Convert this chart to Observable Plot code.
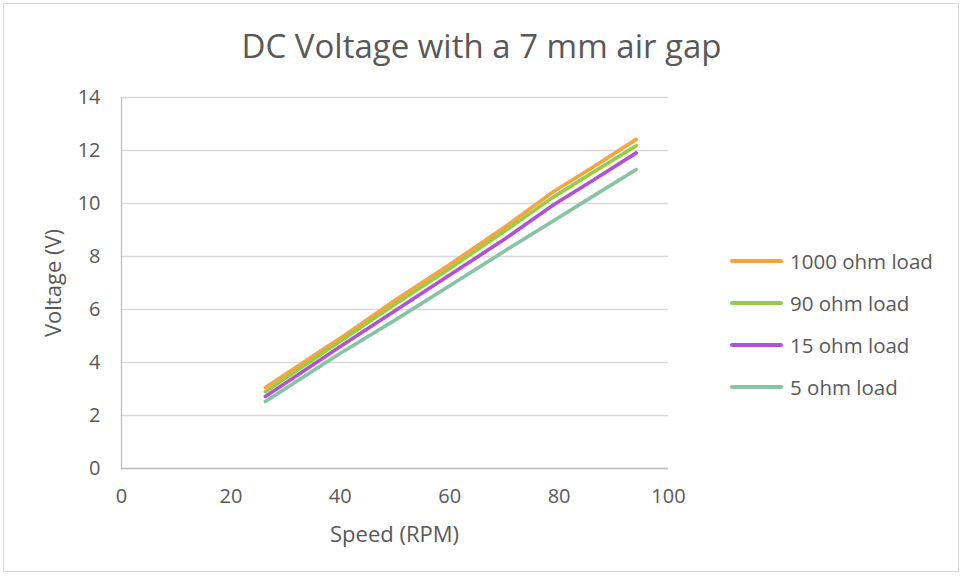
<!DOCTYPE html>
<html>
<head>
<meta charset="utf-8">
<script src="https://cdn.jsdelivr.net/npm/d3@7"></script>
<script src="https://cdn.jsdelivr.net/npm/@observablehq/plot@0.6"></script>
<style>
  html, body { margin: 0; padding: 0; background: #fff; }
  body { width: 963px; height: 577px; position: relative; overflow: hidden; font-family: "Open Sans", sans-serif; color: #595959; }
  #frame { position: absolute; left: 3px; top: 3px; width: 956px; height: 569px; border: 1px solid #d9d9d9; box-sizing: border-box; }
  #chart { position: absolute; left: 0; top: 0; }
  #title { position: absolute; left: 0; width: 963px; top: 23px; text-align: center; font-size: 33px; color: #595959; }
  #xlabel { position: absolute; left: 121px; width: 547px; top: 518px; text-align: center; font-size: 22px; }
  #ylabel { position: absolute; left: 52px; top: 283px; transform: translate(-50%, -50%) rotate(-90deg); font-size: 22px; white-space: nowrap; }
  #legend { position: absolute; left: 730px; top: 240px; }
  .item { display: flex; align-items: center; height: 42px; font-size: 20.5px; }
  .swatch { width: 53px; height: 4px; border-radius: 2px; margin-right: 7px; }
</style>
</head>
<body>
<div id="frame"></div>
<div id="title">DC Voltage with a 7 mm air gap</div>
<div id="chart"></div>
<div id="xlabel">Speed (RPM)</div>
<div id="ylabel">Voltage (V)</div>
<div id="legend"></div>
<script>
const seriesNames = ["1000 ohm load", "90 ohm load", "15 ohm load", "5 ohm load"];
const seriesColors = ["#f9a33a", "#98cc45", "#b052d8", "#86c5a4"];
const speed = [26.3, 40, 50, 60, 70, 79, 86, 94.1];
const v1000 = [3.06, 4.92, 6.35, 7.7, 9.1, 10.45, 11.35, 12.42];
const v90 = [2.9, 4.8, 6.2, 7.55, 8.95, 10.25, 11.15, 12.18];
const v15 = [2.72, 4.6, 5.95, 7.3, 8.65, 9.95, 10.85, 11.91];
const v5 = [2.53, 4.35, 5.6, 6.9, 8.2, 9.35, 10.25, 11.28];
const xTicks = [0, 20, 40, 60, 80, 100];
const yTicks = [0, 2, 4, 6, 8, 10, 12, 14];

const allSeries = [v1000, v90, v15, v5];
const data = [];
allSeries.forEach((vals, i) => {
  vals.forEach((v, j) => data.push({series: seriesNames[i], speed: speed[j], voltage: v}));
});

const chart = Plot.plot({
  width: 963,
  height: 577,
  marginLeft: 121,
  marginRight: 295,
  marginTop: 97,
  marginBottom: 109,
  style: {fontFamily: "Open Sans, sans-serif", fontSize: "20px", color: "#595959", background: "transparent"},
  x: {domain: [0, 100], ticks: xTicks, label: null},
  y: {domain: [0, 14], ticks: yTicks, label: null},
  color: {domain: seriesNames, range: seriesColors},
  marks: [
    Plot.gridY(yTicks, {stroke: "#d9d9d9", strokeOpacity: 1, strokeWidth: 1.3}),
    Plot.ruleX([0], {stroke: "#bfbfbf", strokeWidth: 1.3}),
    Plot.ruleY([0], {stroke: "#bfbfbf", strokeWidth: 1.3}),
    Plot.axisX({ticks: xTicks, tickSize: 0, tickPadding: 20, label: null, fill: "#595959"}),
    Plot.axisY({ticks: yTicks, tickSize: 0, tickPadding: 21, label: null, fill: "#595959"}),
    Plot.line(data, {x: "speed", y: "voltage", z: "series", stroke: "series", strokeWidth: 3.6, curve: "linear"})
  ]
});
document.getElementById("chart").appendChild(chart);

const legend = document.getElementById("legend");
seriesNames.forEach((name, i) => {
  const item = document.createElement("div");
  item.className = "item";
  const sw = document.createElement("div");
  sw.className = "swatch";
  sw.style.background = seriesColors[i];
  const label = document.createElement("span");
  label.textContent = name;
  item.appendChild(sw);
  item.appendChild(label);
  legend.appendChild(item);
});
</script>
</body>
</html>
